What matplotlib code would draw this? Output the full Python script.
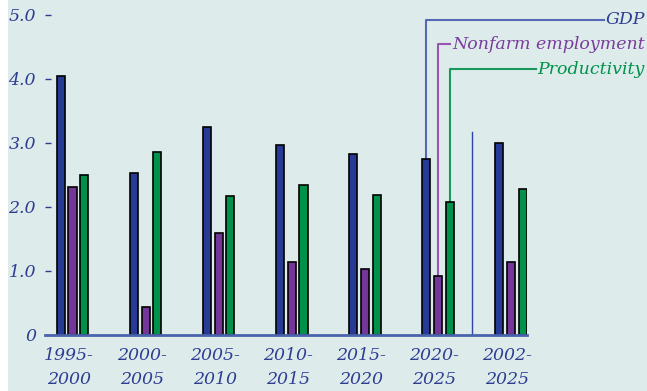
import numpy as np
import matplotlib
matplotlib.use('Agg')
import matplotlib.pyplot as plt

periods = ['1995-\n2000', '2000-\n2005', '2005-\n2010', '2010-\n2015',
           '2015-\n2020', '2020-\n2025', '2002-\n2025']
gdp = [4.05, 2.52, 3.24, 2.97, 2.82, 2.75, 2.99]
nonfarm = [2.31, 0.43, 1.59, 1.14, 1.02, 0.92, 1.13]
productivity = [2.49, 2.85, 2.16, 2.34, 2.19, 2.08, 2.28]
yticks = [0, 1, 2, 3, 4, 5]
yticklabels = ['0', '1.0', '2.0', '3.0', '4.0', '5.0']
series_names = ['GDP', 'Nonfarm employment', 'Productivity']

bg = '#ddebea'
txt = '#2e3d92'
c_gdp = '#263a96'
c_nf = '#75369a'
c_pr = '#00924b'
text_cols = [txt, '#7a3c9c', '#00924b']
line_cols = ['#5468b4', '#9856b4', '#18985a']

plt.rcParams['font.family'] = ['DejaVu Serif']
plt.rcParams['font.style'] = 'italic'

W, H = 647, 391
fig = plt.figure(figsize=(W / 100, H / 100), dpi=100)
fig.patch.set_facecolor(bg)
# white strip at left edge
fig.patches.append(plt.Rectangle((0, 0), 8 / W, 1, transform=fig.transFigure,
                                 facecolor='white', edgecolor='none', zorder=-1))

ax = fig.add_axes([45 / W, (H - 334.7) / H, (527 - 45) / W, 320 / H])
ax.set_facecolor('none')

x = np.arange(len(periods))
bw = 0.11
off = 0.16
ax.bar(x - off, gdp, bw, color=c_gdp, edgecolor='black', linewidth=1.2, zorder=3)
ax.bar(x, nonfarm, bw, color=c_nf, edgecolor='black', linewidth=1.2, zorder=3)
ax.bar(x + off, productivity, bw, color=c_pr, edgecolor='black', linewidth=1.2, zorder=3)

ax.set_xlim(-0.376, 6.217)
ax.set_ylim(0, 5)

for s in ['left', 'right', 'top']:
    ax.spines[s].set_visible(False)
ax.spines['bottom'].set_color('#4a63ad')
ax.spines['bottom'].set_linewidth(2)
ax.spines['bottom'].set_zorder(4)

ax.set_yticks(yticks)
ax.set_yticklabels(yticklabels)
ax.tick_params(axis='y', direction='in', length=4.5, width=1, color=txt,
               pad=6.5, labelsize=12.5, labelcolor=txt)
ax.set_xticks(x - 0.05)
ax.set_xticklabels(periods, linespacing=1.55)
ax.tick_params(axis='x', length=0, pad=9, labelsize=12.5, labelcolor=txt)

# separator before the full-period group
ax.plot([5.47, 5.47], [0, 3.16], color='#2e44a8', linewidth=1, zorder=2)

# callout labels for the 2020-2025 group
grp = 5
bars = [(grp - off, gdp[grp]), (grp, nonfarm[grp]), (grp + off, productivity[grp])]
label_y = [4.92, 4.54, 4.15]
text_x = (645 - 72.5) / 73.1
fig.canvas.draw()
renderer = fig.canvas.get_renderer()
for (bx, by), ly, name, tc, lc in zip(bars, label_y, series_names, text_cols, line_cols):
    t = ax.text(text_x, ly, name, ha='right', va='center', fontsize=12.5,
                color=tc, clip_on=False)
    bb = t.get_window_extent(renderer)
    left_data = ax.transData.inverted().transform((bb.x0 - 2, 0))[0]
    ax.plot([bx, bx, left_data], [by, ly, ly], color=lc, linewidth=1.5,
            clip_on=False, zorder=2)

fig.savefig('out.png', dpi=100, facecolor=fig.get_facecolor())
